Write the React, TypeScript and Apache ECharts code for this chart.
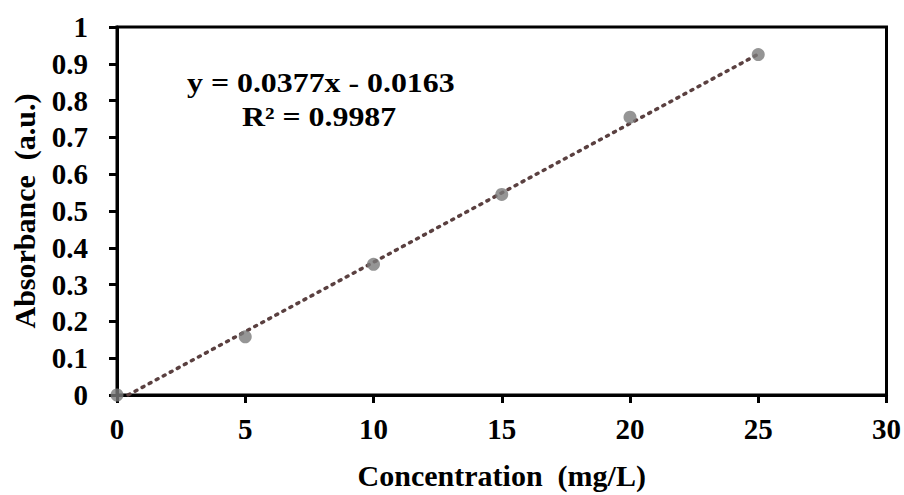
import React, { useEffect, useRef } from "react";
import * as echarts from "echarts";

const concentrations = [0, 5, 10, 15, 20, 25];
const absorbances = [0, 0.158, 0.355, 0.545, 0.755, 0.925];
const slope = 0.0377;
const intercept = -0.0163;
const equationText = "y = 0.0377x - 0.0163";
const r2Text = "R² = 0.9987";
const xTitle = "Concentration  (mg/L)";
const yTitle = "Absorbance  (a.u.)";

const font = "'Liberation Serif', 'Times New Roman', serif";

export default function App() {
  const ref = useRef<HTMLDivElement>(null);
  useEffect(() => {
    if (!ref.current) return;
    const chart = echarts.init(ref.current, null, { renderer: "svg" });
    const xEnd = concentrations[concentrations.length - 1];
    const trend = [
      [-intercept / slope, 0],
      [xEnd, slope * xEnd + intercept],
    ];
    chart.setOption({
      animation: false,
      backgroundColor: "#ffffff",
      grid: {
        left: 117,
        right: 17,
        top: 27,
        bottom: 98,
        show: true,
        borderColor: "#000",
        borderWidth: 3,
      },
      xAxis: {
        type: "value",
        min: 0,
        max: 30,
        interval: 5,
        name: xTitle,
        nameLocation: "middle",
        nameGap: 65,
        nameTextStyle: { fontFamily: font, fontWeight: "bold", fontSize: 30, color: "#000" },
        axisLine: { show: true, lineStyle: { color: "#000", width: 3 } },
        axisTick: { show: true, length: 8, lineStyle: { color: "#000", width: 3 } },
        axisLabel: { fontFamily: font, fontWeight: "bold", fontSize: 29, color: "#000", margin: 19 },
        splitLine: { show: false },
      },
      yAxis: {
        type: "value",
        min: 0,
        max: 1,
        interval: 0.1,
        name: yTitle,
        nameLocation: "middle",
        nameGap: 78,
        nameTextStyle: { fontFamily: font, fontWeight: "bold", fontSize: 30, color: "#000" },
        axisLine: { show: true, lineStyle: { color: "#000", width: 3 } },
        axisTick: { show: true, length: 8, lineStyle: { color: "#000", width: 3 } },
        axisLabel: {
          fontFamily: font,
          fontWeight: "bold",
          fontSize: 29,
          color: "#000",
          margin: 29,
          formatter: (v: number) => String(Math.round(v * 10) / 10),
        },
        splitLine: { show: false },
      },
      graphic: [
        {
          type: "text",
          x: 187,
          y: 83,
          scaleX: 1.18,
          style: {
            text: equationText,
            fontFamily: font,
            fontWeight: "bold",
            fontSize: 27,
            fill: "#000",
            align: "left",
            verticalAlign: "middle",
          },
        },
        {
          type: "text",
          x: 242,
          y: 117,
          scaleX: 1.18,
          style: {
            text: r2Text,
            fontFamily: font,
            fontWeight: "bold",
            fontSize: 27,
            fill: "#000",
            align: "left",
            verticalAlign: "middle",
          },
        },
      ],
      series: [
        {
          type: "line",
          data: trend,
          showSymbol: false,
          symbol: "none",
          lineStyle: { color: "#5a4040", width: 3.5, type: [2, 6], cap: "round" },
          z: 2,
          silent: true,
        },
        {
          type: "scatter",
          data: concentrations.map((c, i) => [c, absorbances[i]]),
          symbol: "circle",
          symbolSize: 13,
          itemStyle: { color: "#7a7a7a" },
          z: 3,
        },
      ],
    });
    return () => chart.dispose();
  }, []);
  return (
    <div
      ref={ref}
      style={{ position: "fixed", left: 0, top: 0, width: 904, height: 495, background: "#fff" }}
    />
  );
}
